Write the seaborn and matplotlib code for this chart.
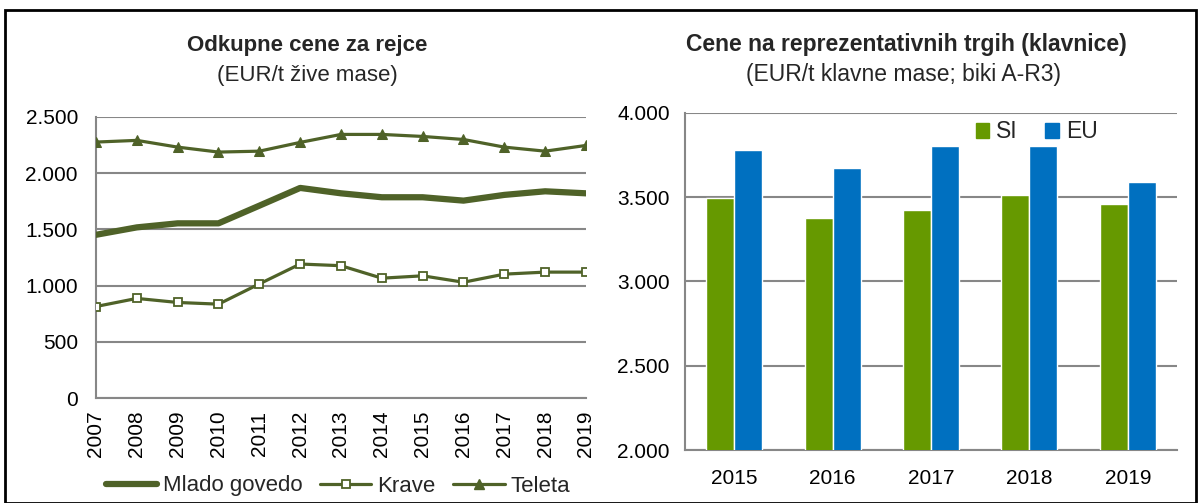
import pandas as pd
import numpy as np
import matplotlib.pyplot as plt
import matplotlib.patches as mpatches
from matplotlib.lines import Line2D
import seaborn as sns

years = [2007, 2008, 2009, 2010, 2011, 2012, 2013, 2014, 2015, 2016, 2017, 2018, 2019]
mlado_govedo = [1452, 1518, 1554, 1554, 1711, 1869, 1821, 1786, 1786, 1756, 1807, 1839, 1821]
krave = [814, 886, 850, 835, 1015, 1192, 1177, 1066, 1087, 1030, 1102, 1120, 1120]
teleta = [2277, 2292, 2232, 2188, 2196, 2274, 2345, 2345, 2327, 2300, 2232, 2196, 2247]

bar_years = ["2015", "2016", "2017", "2018", "2019"]
si_values = [3496, 3375, 3423, 3516, 3458]
eu_values = [3782, 3675, 3806, 3806, 3593]

sns.set_theme(style="white")
plt.rcParams['font.family'] = ['Liberation Sans', 'DejaVu Sans']

olive = '#4F6228'
grid_c = '#878787'
green = '#669900'
blue = '#0070C0'
W, H = 1201, 503

fig = plt.figure(figsize=(12.01, 5.03), dpi=100)
fig.patch.set_facecolor('white')

# okvir
fig.patches.append(mpatches.Rectangle((5 / W, 0), (1196 - 5) / W, 1 - 10 / H, transform=fig.transFigure,
                                      fill=False, edgecolor='black', linewidth=2))

# levi graf
ax1 = fig.add_axes([96 / W, 1 - 398 / H, (586 - 96) / W, (398 - 117) / H])
df_line = pd.DataFrame({'Leto': years, 'Mlado govedo': mlado_govedo, 'Krave': krave, 'Teleta': teleta})
sns.lineplot(data=df_line, x='Leto', y='Mlado govedo', ax=ax1, color=olive, linewidth=4.5, zorder=3)
sns.lineplot(data=df_line, x='Leto', y='Krave', ax=ax1, color=olive, linewidth=2.3, marker='s',
             markersize=6, markerfacecolor='white', markeredgecolor=olive, markeredgewidth=1.3, zorder=3)
sns.lineplot(data=df_line, x='Leto', y='Teleta', ax=ax1, color=olive, linewidth=2.3, marker='^',
             markersize=7, markerfacecolor=olive, markeredgecolor=olive, zorder=3)
ax1.set_xlim(2007, 2019)
ax1.set_ylim(0, 2500)
ax1.set_xticks(years)
ax1.set_xticklabels([str(y) for y in years], rotation=90)
ax1.set_yticks(range(0, 2501, 500))
ax1.set_yticklabels(['0', '500', '1.000', '1.500', '2.000', '2.500'])
ax1.set_xlabel('')
ax1.set_ylabel('')
ax1.yaxis.grid(True, color=grid_c, linewidth=1.5)
ax1.set_axisbelow(True)
for s in ['top', 'right']:
    ax1.spines[s].set_visible(False)
for s in ['left', 'bottom']:
    ax1.spines[s].set_color(grid_c)
    ax1.spines[s].set_linewidth(1.5)
ax1.tick_params(axis='both', labelsize=15, labelcolor='black', color=grid_c, length=6, width=1.2,
                direction='out')
ax1.tick_params(axis='y', pad=7)
ax1.tick_params(axis='x', pad=3)

handles = [Line2D([0], [0], color=olive, linewidth=4.5),
           Line2D([0], [0], color=olive, linewidth=2.3, marker='s', markersize=6,
                  markerfacecolor='white', markeredgecolor=olive, markeredgewidth=1.3),
           Line2D([0], [0], color=olive, linewidth=2.3, marker='^', markersize=7,
                  markerfacecolor=olive, markeredgecolor=olive)]
fig.legend(handles, ['Mlado govedo', 'Krave', 'Teleta'], loc='center', bbox_to_anchor=(338 / W, 1 - 486 / H),
           ncol=3, frameon=False, fontsize=16, handlelength=2.3, handletextpad=0.27, columnspacing=0.8)

fig.text(307 / W, 1 - 45 / H, 'Odkupne cene za rejce', ha='center', va='center', fontsize=16, fontweight='bold')
fig.text(307 / W, 1 - 75 / H, '(EUR/t žive mase)', ha='center', va='center', fontsize=16)

# desni graf
ax2 = fig.add_axes([685 / W, 1 - 450 / H, (1177 - 685) / W, (450 - 113) / H])
df_bar = pd.DataFrame({'Leto': bar_years * 2,
                       'Cena': si_values + eu_values,
                       'Trg': ['SI'] * len(bar_years) + ['EU'] * len(bar_years)})
sns.barplot(data=df_bar, x='Leto', y='Cena', hue='Trg', ax=ax2, palette=[green, blue], width=0.57,
            saturation=1, zorder=3, legend=False)
ax2.set_xlim(-0.5, 4.5)
ax2.set_ylim(2000, 4000)
ax2.set_yticks(range(2000, 4001, 500))
ax2.set_yticklabels(['2.000', '2.500', '3.000', '3.500', '4.000'])
ax2.set_xticks(np.arange(-0.5, 5, 1), minor=True)
ax2.tick_params(axis='x', which='major', length=0, pad=14)
ax2.tick_params(axis='x', which='minor', length=6, width=1.2, color=grid_c, direction='out')
ax2.tick_params(axis='y', length=6, width=1.2, color=grid_c, direction='out', pad=5)
ax2.tick_params(axis='both', labelsize=15, labelcolor='black')
ax2.set_xlabel('')
ax2.set_ylabel('')
ax2.yaxis.grid(True, color=grid_c, linewidth=1.5)
ax2.set_axisbelow(True)
for s in ['top', 'right']:
    ax2.spines[s].set_visible(False)
for s in ['left', 'bottom']:
    ax2.spines[s].set_color(grid_c)
    ax2.spines[s].set_linewidth(1.5)

bar_handles = [mpatches.Patch(color=green), mpatches.Patch(color=blue)]
ax2.legend(bar_handles, ['SI', 'EU'], loc='center', bbox_to_anchor=(0.715, 0.944), ncol=2, frameon=False,
           fontsize=16.5, handlelength=0.6, handleheight=0.6, handletextpad=0.3, columnspacing=1.2)

fig.text(906 / W, 1 - 45 / H, 'Cene na reprezentativnih trgih (klavnice)', ha='center', va='center',
         fontsize=16.5, fontweight='bold')
fig.text(904 / W, 1 - 75 / H, '(EUR/t klavne mase; biki A-R3)', ha='center', va='center', fontsize=16.5)

plt.savefig('out.png', dpi=100)
